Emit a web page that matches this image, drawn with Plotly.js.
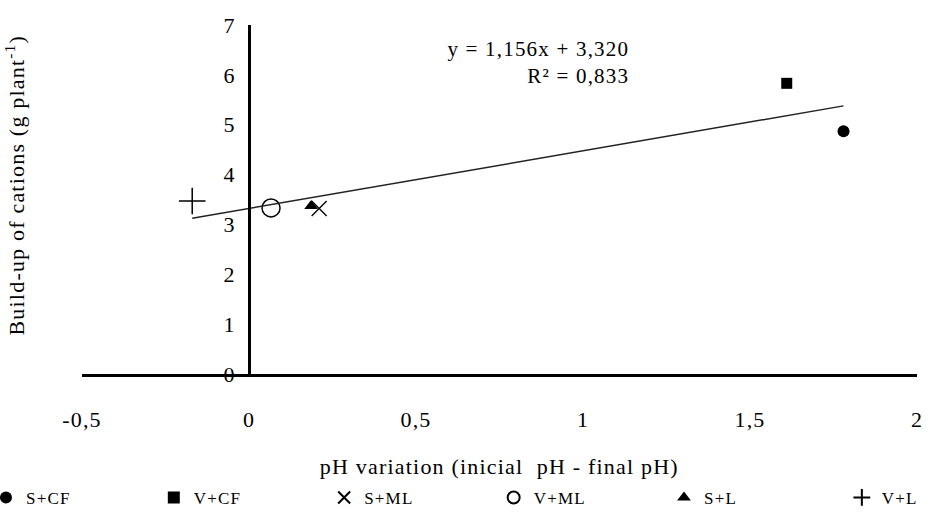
<!DOCTYPE html>
<html>
<head>
<meta charset="utf-8">
<script src="https://cdn.plot.ly/plotly-3.0.1.min.js"></script>
<style>
html,body{margin:0;padding:0;background:#fff;}
#chart{width:931px;height:522px;}
#chart svg text{letter-spacing:1.2px;}
</style>
</head>
<body>
<div id="chart"></div>
<script>
// Data
const seriesNames = ["S+CF", "V+CF", "S+ML", "V+ML", "S+L", "V+L"];
const phVariation = [1.78, 1.61, 0.21, 0.066, 0.186, -0.17];
const cationBuildUp = [4.87, 5.83, 3.32, 3.33, 3.37, 3.47];
const trendSlope = 1.156;
const trendIntercept = 3.320;
const trendR2 = 0.833;
const xTickVals = [-0.5, 0, 0.5, 1, 1.5, 2];
const xTickText = ["-0,5", "0", "0,5", "1", "1,5", "2"];
const yTickVals = [0, 1, 2, 3, 4, 5, 6, 7];

const FONT = "Liberation Serif, Times New Roman, serif";
const markerStyles = [
  {symbol: "circle", size: 12, color: "#000"},
  {symbol: "square", size: 11, color: "#000"},
  {symbol: "x-thin-open", size: 15, color: "#000", line: {width: 1.3, color: "#000"}},
  {symbol: "circle-open", size: 18, color: "#000", line: {width: 1.5, color: "#000"}},
  {symbol: "triangle-up", size: 12, color: "#000"},
  {symbol: "cross-thin-open", size: 19, color: "#000", line: {width: 1.5, color: "#000"}}
];
// one single-item legend per series, spread along the bottom edge
const legendIds = ["legend", "legend2", "legend3", "legend4", "legend5", "legend6"];
const legendX = [-0.115, 0.086, 0.290, 0.493, 0.697, 0.910];

const traces = seriesNames.map((name, i) => ({
  type: "scatter",
  mode: "markers",
  name: name,
  x: [phVariation[i]],
  y: [cationBuildUp[i]],
  marker: markerStyles[i],
  legend: legendIds[i],
  cliponaxis: false
}));

const xMin = Math.min(...phVariation), xMax = Math.max(...phVariation);
traces.push({
  type: "scatter",
  mode: "lines",
  x: [xMin, xMax],
  y: [trendSlope * xMin + trendIntercept, trendSlope * xMax + trendIntercept],
  line: {color: "#222", width: 1.5},
  showlegend: false,
  hoverinfo: "skip"
});

const fmt = (v, d) => v.toFixed(d).replace(".", ",");

const layout = {
  width: 931, height: 522,
  margin: {l: 82, r: 14, t: 25, b: 148, autoexpand: false},
  paper_bgcolor: "#fff", plot_bgcolor: "#fff",
  font: {family: FONT, size: 22, color: "#000"},
  showlegend: true,
  xaxis: {
    range: [-0.5, 2], tickvals: xTickVals, ticktext: xTickText,
    showgrid: false, zeroline: false, showline: true, linecolor: "#000", linewidth: 3,
    ticks: "", ticklabelstandoff: 24, automargin: false,
    tickfont: {family: FONT, size: 22, color: "#000"}
  },
  yaxis: {
    range: [0, 7], tickvals: yTickVals,
    anchor: "free", position: 0.2, side: "left", automargin: false,
    showgrid: false, zeroline: false, showline: true, linecolor: "#000", linewidth: 3,
    ticks: "", ticklabelstandoff: 8,
    tickfont: {family: FONT, size: 22, color: "#000"}
  },
  annotations: [
    {
      text: "Build-up of cations (g plant<sup>-1</sup>)",
      xref: "paper", yref: "paper", x: -0.081, xanchor: "center", y: 0.54, yanchor: "middle",
      textangle: -90,
      showarrow: false, font: {family: FONT, size: 22, color: "#000"}
    },
    {
      text: "pH variation (inicial  pH - final pH)",
      xref: "paper", yref: "paper", x: 0.5, xanchor: "center", y: -0.264, yanchor: "middle",
      showarrow: false, font: {family: FONT, size: 22, color: "#000"}
    },
    {
      text: "y = " + fmt(trendSlope, 3) + "x + " + fmt(trendIntercept, 3) + "<br>R² = " + fmt(trendR2, 3),
      xref: "x", yref: "y", x: 1.145, xanchor: "right", y: 6.25, yanchor: "middle", align: "right",
      showarrow: false, font: {family: FONT, size: 21, color: "#000"}
    }
  ]
};

legendIds.forEach((id, i) => {
  layout[id] = {
    orientation: "h", x: legendX[i], xanchor: "left", y: -0.355, yanchor: "middle",
    font: {family: FONT, size: 17, color: "#000"},
    bgcolor: "rgba(0,0,0,0)", borderwidth: 0,
    itemsizing: "constant", itemwidth: 30
  };
});

Plotly.newPlot("chart", traces, layout, {displayModeBar: false, staticPlot: true});
</script>
</body>
</html>
